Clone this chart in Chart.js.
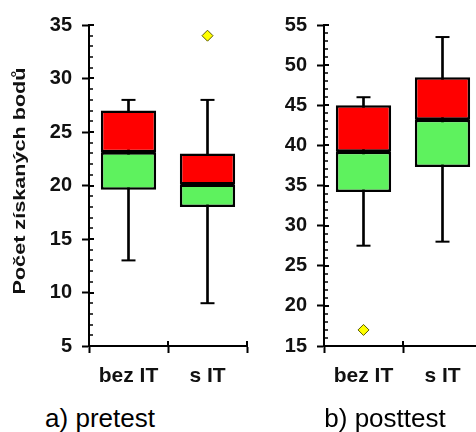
<!DOCTYPE html>
<html>
<head>
<meta charset="utf-8">
<script src="https://cdn.jsdelivr.net/npm/chart.js@4.4.1/dist/chart.umd.min.js"></script>
<style>
   html, body { margin: 0; padding: 0; width: 476px; height: 432px; overflow: hidden; background: #fff; }
   canvas { position: absolute; top: 0; }
   .legenda { position: absolute; top: 403px; width: 200px; text-align: center; white-space: nowrap;
              font: 26px "Liberation Sans", Arial, sans-serif; line-height: 30px; color: #000; }
</style>
</head>
<body>
<canvas id="grafPre" width="250" height="400" style="left:0"></canvas>
<canvas id="grafPost" width="252" height="400" style="left:236px"></canvas>
<div class="legenda" style="left:0">a) pretest</div>
<div class="legenda" style="left:285px">b) posttest</div>

<script>
//-> DADOS...
const categorias = ['bez IT', 's IT'];

const preMin = [13, 9];
const preQ1 = [19.6, 18];
const preMediana = [23.1, 20.1];
const preQ3 = [27, 23];
const preMax = [28, 28];
const preOutliers = [null, 34];
const preEixo = [5, 35];

const postMin = [27.5, 28];
const postQ1 = [34.2, 37.3];
const postMediana = [39.2, 43.2];
const postQ3 = [45, 48.5];
const postMax = [46, 53.5];
const postOutliers = [17, null];
const postEixo = [15, 55];

const tituloY = 'Počet získaných bodů';

Chart.defaults.font.family = '"Liberation Sans", Arial, sans-serif';

//-> ticks menores, extensao dos ticks e titulo do eixo Y...
const extrasEixo = {
   id: 'extrasEixo',
   afterDraw(chart, args, opts) {
      const ctx = chart.ctx;
      const y = chart.scales.y;
      const x = chart.scales.x;
      const ax = chart.chartArea.left;
      ctx.save();
      ctx.strokeStyle = '#000';
      for (let v = y.min; v <= y.max; v++) {
         const py = Math.round(y.getPixelForValue(v));
         const maior = v % 5 === 0;
         ctx.lineWidth = maior ? 2 : 1.5;
         ctx.beginPath();
         ctx.moveTo(ax, py);
         ctx.lineTo(ax + (maior ? 5 : 4), py);
         ctx.stroke();
      }
      const meio = (x.getPixelForValue(1) - x.getPixelForValue(0)) / 2;
      ctx.lineWidth = 2;
      for (let i = 0; i < categorias.length; i++) {
         const px = Math.round(x.getPixelForValue(i) + meio);
         ctx.beginPath();
         ctx.moveTo(px, chart.chartArea.bottom);
         ctx.lineTo(px, chart.chartArea.bottom - 5);
         ctx.stroke();
      }
      if (opts.texto) {
         ctx.font = 'bold 17px "Liberation Sans", Arial, sans-serif';
         ctx.fillStyle = '#111';
         const w = ctx.measureText(opts.texto).width;
         ctx.translate(opts.x, opts.y);
         ctx.rotate(-Math.PI / 2);
         ctx.scale(opts.comprimento / w, 1);
         ctx.textAlign = 'center';
         ctx.textBaseline = 'alphabetic';
         ctx.fillText(opts.texto, 0, 0);
      }
      ctx.restore();
   }
};

function montarGrafico(id, min, q1, mediana, q3, max, outliers, eixo, larguraY, padDir, titulo) {
   const grafico = document.getElementById(id).getContext('2d');
   return new Chart(grafico, {
      type: 'bar',
      data: {
         labels: categorias,
         datasets: [{
            type: 'line',
            data: outliers,
            showLine: false,
            pointStyle: 'rectRot',
            pointRadius: 5.5,
            pointBackgroundColor: '#ffff00',
            pointBorderColor: '#5a5a00',
            pointBorderWidth: 1,
            order: 0
         }, {
            type: 'line',
            data: mediana,
            showLine: false,
            pointStyle: 'line',
            pointRadius: 27,
            pointBorderColor: '#000',
            pointBorderWidth: 3.5,
            order: 0
         }, {
            data: q1.map((v, i) => [v, mediana[i]]),
            backgroundColor: '#5ef25e',
            borderColor: '#000',
            borderWidth: 2.5,
            borderSkipped: false,
            grouped: false,
            barPercentage: 0.7,
            categoryPercentage: 1,
            order: 1
         }, {
            data: mediana.map((v, i) => [v, q3[i]]),
            backgroundColor: '#ff0000',
            borderColor: '#000',
            borderWidth: 2.5,
            borderSkipped: false,
            grouped: false,
            barPercentage: 0.7,
            categoryPercentage: 1,
            order: 1
         }, {
            type: 'line',
            data: max,
            showLine: false,
            pointStyle: 'line',
            pointRadius: 7,
            pointBorderColor: '#000',
            pointBorderWidth: 2,
            order: 2
         }, {
            type: 'line',
            data: min,
            showLine: false,
            pointStyle: 'line',
            pointRadius: 7,
            pointBorderColor: '#000',
            pointBorderWidth: 2,
            order: 2
         }, {
            data: min.map((v, i) => [v, max[i]]),
            backgroundColor: '#000',
            barThickness: 2,
            grouped: false,
            order: 3
         }]
      },
      options: {
         responsive: false,
         animation: false,
         events: [],
         layout: { autoPadding: false, padding: { top: 25, right: padDir, left: 0, bottom: 0 } },
         plugins: {
            legend: { display: false },
            tooltip: { enabled: false },
            extrasEixo: titulo
         },
         scales: {
            x: {
               afterFit: s => { s.height = 54; },
               grid: { drawOnChartArea: false, offset: true, tickLength: 7, tickWidth: 2, tickColor: '#000' },
               border: { color: '#000', width: 2 },
               ticks: { color: '#111', padding: 11, maxRotation: 0, font: { size: 21, weight: 'bold' } }
            },
            y: {
               min: eixo[0],
               max: eixo[1],
               afterFit: s => { s.width = larguraY; },
               grid: { drawOnChartArea: false, tickLength: 7, tickWidth: 2, tickColor: '#000' },
               border: { color: '#000', width: 2 },
               ticks: { stepSize: 5, autoSkip: false, color: '#111', padding: 10, font: { size: 20, weight: 'bold' } }
            }
         }
      },
      plugins: [extrasEixo]
   });
}

montarGrafico('grafPre', preMin, preQ1, preMediana, preQ3, preMax, preOutliers, preEixo, 89, 3,
   { texto: tituloY, x: 25, y: 181, comprimento: 227 });
montarGrafico('grafPost', postMin, postQ1, postMediana, postQ3, postMax, postOutliers, postEixo, 88, 6, {});
</script>
</body>
</html>
